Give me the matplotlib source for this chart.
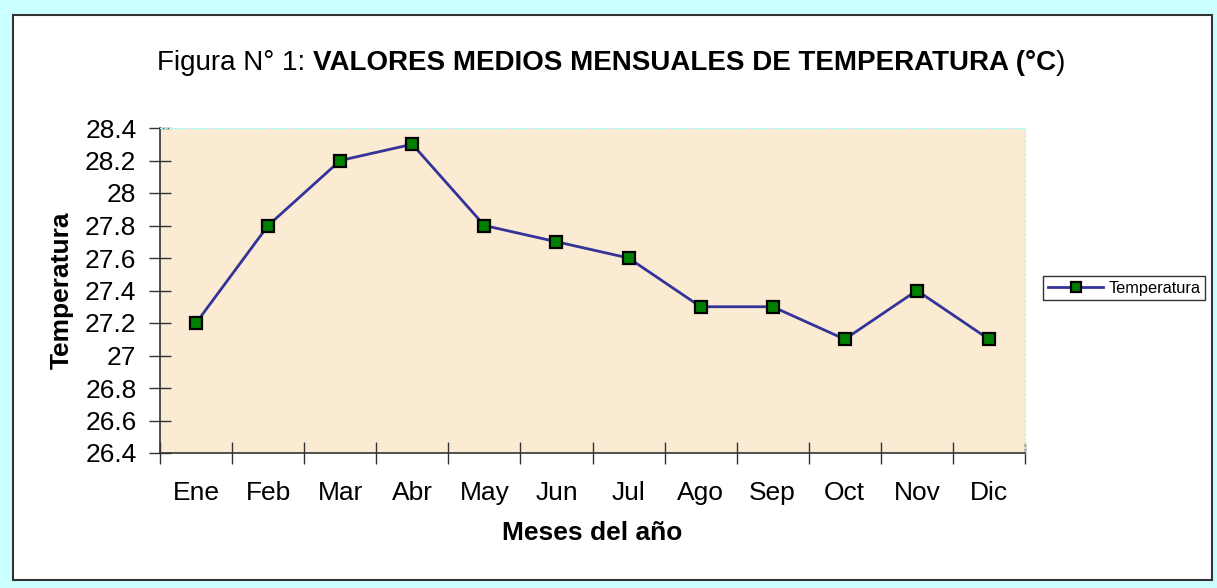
import matplotlib.pyplot as plt
from matplotlib.patches import Rectangle

plt.rcParams['font.family'] = ['Liberation Sans', 'DejaVu Sans']

meses = ["Ene", "Feb", "Mar", "Abr", "May", "Jun", "Jul", "Ago", "Sep", "Oct", "Nov", "Dic"]
temperatura = [27.2, 27.8, 28.2, 28.3, 27.8, 27.7, 27.6, 27.3, 27.3, 27.1, 27.4, 27.1]
y_ticks = [26.4, 26.6, 26.8, 27, 27.2, 27.4, 27.6, 27.8, 28, 28.2, 28.4]
y_tick_labels = ["26.4", "26.6", "26.8", "27", "27.2", "27.4", "27.6", "27.8", "28", "28.2", "28.4"]

W, H = 1217, 588
fig = plt.figure(figsize=(W / 100, H / 100), dpi=100)
fig.patch.set_facecolor("#CCFFFF")

# white chart area with dark border
box = Rectangle((13 / W, 1 - 580 / H), (1212 - 13) / W, (580 - 15) / H,
                transform=fig.transFigure, facecolor="white",
                edgecolor="#333333", linewidth=1.5, zorder=-5)
fig.add_artist(box)

ax = fig.add_axes([160 / W, 1 - 453 / H, (1025 - 160) / W, (453 - 128) / H])
ax.set_facecolor("#FAEBD2")

x = range(len(meses))
ax.plot(x, temperatura, color="#333399", linewidth=2, marker="s", markersize=8.5,
        markerfacecolor="#008000", markeredgecolor="black", markeredgewidth=1.6,
        label="Temperatura", clip_on=False)

ax.set_xlim(-0.5, len(meses) - 0.5)
ax.set_ylim(26.4, 28.4)
ax.set_yticks(y_ticks)
ax.set_yticklabels(y_tick_labels, fontsize=19)
ax.set_xticks([i - 0.5 for i in range(len(meses) + 1)])
ax.set_xticklabels([])
ax.set_xticks(list(x), minor=True)
ax.set_xticklabels(meses, minor=True, fontsize=19)
ax.tick_params(axis="x", which="minor", length=0, pad=20)
ax.tick_params(axis="both", which="major", direction="inout", length=16, width=1, color="#333333")
ax.tick_params(axis="y", pad=9)

for s in ["top", "right"]:
    ax.spines[s].set_color("#99FFFF")
    ax.spines[s].set_linestyle((0, (2, 2)))
for s in ["left", "bottom"]:
    ax.spines[s].set_color("#333333")
    ax.spines[s].set_linewidth(1.2)

ax.set_ylabel("Temperatura", fontsize=19, fontweight="bold", labelpad=8)
ax.set_xlabel("Meses del año", fontsize=19, fontweight="bold", labelpad=12)

leg = fig.legend(loc="center", bbox_to_anchor=(1124 / W, 1 - 288 / H), fontsize=11.8,
                 frameon=True, fancybox=False, edgecolor="black", handlelength=3.4,
                 borderpad=0.3, handletextpad=0.3, markerscale=0.8)
leg.get_frame().set_linewidth(1)

# title with mixed weights
ty = 1 - 63 / H
t1 = fig.text(0, ty, "Figura N° 1: ", fontsize=20, va="center")
t2 = fig.text(0, ty, "VALORES MEDIOS MENSUALES DE TEMPERATURA (°C", fontsize=20,
              fontweight="bold", va="center")
t3 = fig.text(0, ty, ")", fontsize=20, va="center")
fig.canvas.draw()
r = fig.canvas.get_renderer()
w1 = t1.get_window_extent(r).width
w2 = t2.get_window_extent(r).width
w3 = t3.get_window_extent(r).width
x0 = 611 - (w1 + w2 + w3) / 2
t1.set_x(x0 / W)
t2.set_x((x0 + w1) / W)
t3.set_x((x0 + w1 + w2) / W)

fig.savefig("out.png", dpi=100, facecolor=fig.get_facecolor())
